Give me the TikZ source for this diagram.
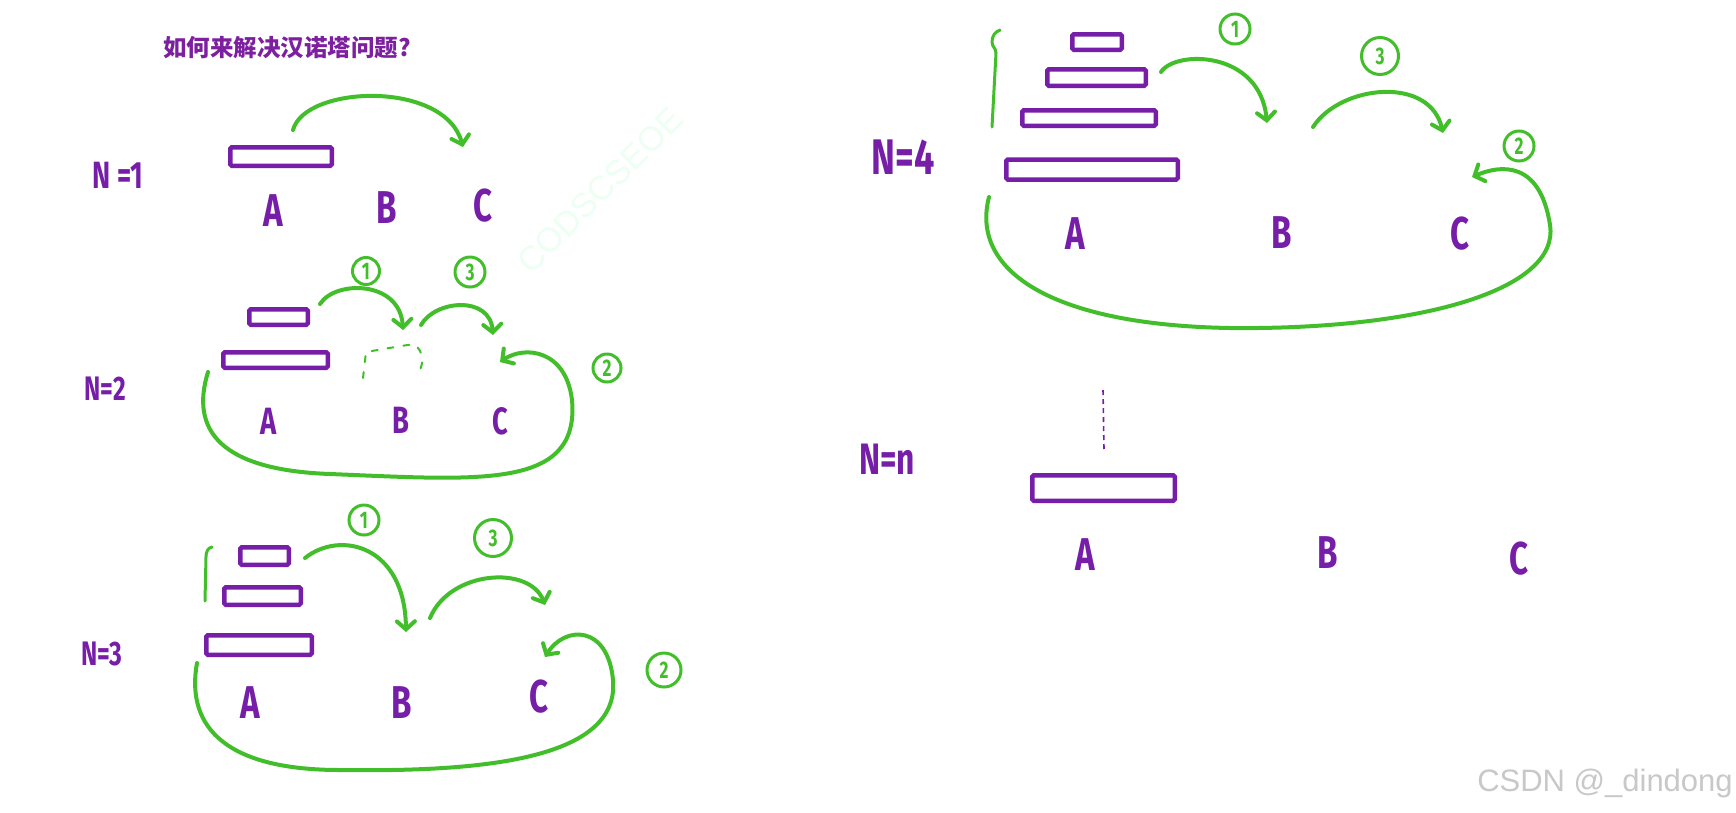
\documentclass[tikz,border=0pt]{standalone}
\usepackage{fontspec}
\usetikzlibrary{arrows.meta}
\newfontfamily\cjk{Noto Sans CJK SC}
\newfontfamily\hand{Fira Sans}[FakeStretch=0.72]
\newfontfamily\wm{Liberation Sans}
\definecolor{hpurple}{RGB}{118,30,168}
\definecolor{tpurple}{RGB}{125,32,160}
\definecolor{hgreen}{RGB}{66,190,42}
\definecolor{wmgray}{RGB}{200,200,200}
\definecolor{wmfaint}{RGB}{236,255,242}
\tikzset{
  disk/.style={draw=hpurple, line width=4.5pt, rounded corners=1.5pt, inner sep=0pt, outer sep=0pt},
  peg/.style={text=hpurple, inner sep=0pt, font=\hand\bfseries\fontsize{46}{46}\selectfont},
  pegsmall/.style={peg, font=\hand\bfseries\fontsize{38}{38}\selectfont},
  nlab/.style={text=hpurple, inner sep=0pt, font=\hand\bfseries\fontsize{#1}{#1}\selectfont},
  mv/.style={draw=hgreen, line width=4pt, line cap=round,
    -{Straight Barb[length=8pt,width=18pt,line cap=round]}},
  num/.style={circle, draw=hgreen, line width=3pt, text=hgreen, inner sep=0pt,
    minimum size=#1, font=\hand\bfseries\fontsize{24}{24}\selectfont},
  brace/.style={draw=hgreen, line width=3pt, line cap=round},
}
\begin{document}
\begin{tikzpicture}[x=1pt,y=-1pt]
\useasboundingbox (0,0) rectangle (1736,812);
\fill[white] (0,0) rectangle (1736,812);

% faint watermark
\node[text=wmfaint, font=\wm\fontsize{34}{34}\selectfont, rotate=45] (wmf) at (600,190) {CODSCSEOE};

% title
\node[text=tpurple, font=\cjk\bfseries\fontsize{23.5}{23.5}\selectfont, inner sep=0pt] (title) at (287,48) {如何来解决汉诺塔问题?};

% ---------- N = 1 ----------
\node[nlab=38] (n1) at (118,175) {N =1};
\node[disk, minimum width=101.5pt, minimum height=18.5pt] (d11) at (281,156.5) {};
\node[peg] (a1) at (273,211) {A};
\node[peg] (b1) at (387,208) {B};
\node[peg] (c1) at (483,206) {C};
\coordinate (s11) at (293,130);
\coordinate (e11) at (463,147);
\draw[mv] (s11) .. controls (305,85) and (445,80) .. (e11);

% ---------- N = 2 ----------
\node[nlab=34] (n2) at (105,389) {N=2};
\node[disk, minimum width=58.5pt, minimum height=15.5pt] (d21) at (278.5,317) {};
\node[disk, minimum width=104.5pt, minimum height=15.5pt] (d22) at (275.5,360) {};
\node[pegsmall] (a2) at (269,421) {A};
\node[pegsmall] (b2) at (401,420) {B};
\node[pegsmall] (c2) at (500,421) {C};
\draw[draw=hgreen, line width=2pt, dash pattern=on 6pt off 10pt, line cap=round]
  (363,378) -- (366,352) -- (395,347) -- (414,344) .. controls (424,352) and (424,362) .. (419,372);
\coordinate (s21) at (320,304);
\coordinate (e21) at (403,330);
\draw[mv] (s21) .. controls (335,280) and (400,280) .. (e21);
\coordinate (s23) at (421,325);
\coordinate (e23) at (493,335);
\draw[mv] (s23) .. controls (435,300) and (490,295) .. (e23);
\coordinate (s22) at (208,372);
\coordinate (e22) at (500,362);
\draw[mv] (s22) .. controls (190,430) and (220,470) .. (330,474)
  .. controls (480,480) and (580,490) .. (572,400)
  .. controls (566,350) and (525,345) .. (e22);
\node[num=27pt] (m21) at (366,271) {1};
\node[num=30pt] (m23) at (470,272) {3};
\node[num=28pt] (m22) at (607,368) {2};

% ---------- N = 3 ----------
\node[nlab=34] (n3) at (102,654) {N=3};
\draw[brace] (212,547) to[out=190,in=90] (206,557) -- (205,601);
\node[disk, minimum width=48.5pt, minimum height=17.5pt] (d31) at (264.5,556) {};
\node[disk, minimum width=76.5pt, minimum height=17.5pt] (d32) at (262.5,596) {};
\node[disk, minimum width=105.5pt, minimum height=19.5pt] (d33) at (259,645) {};
\node[peg] (a3) at (250,703) {A};
\node[peg] (b3) at (402,703) {B};
\node[peg] (c3) at (539,697) {C};
\coordinate (s31) at (305,558);
\coordinate (e31) at (406,632);
\draw[mv] (s31) .. controls (340,530) and (405,545) .. (e31);
\coordinate (s33) at (430,618);
\coordinate (e33) at (545,605);
\draw[mv] (s33) .. controls (450,570) and (530,565) .. (e33);
\coordinate (s32) at (197,663);
\coordinate (e32) at (545,657);
\draw[mv] (s32) .. controls (185,730) and (230,770) .. (340,770)
  .. controls (480,772) and (620,760) .. (613,680)
  .. controls (608,625) and (565,625) .. (e32);
\node[num=30pt] (m31) at (364,520) {1};
\node[num=37pt] (m33) at (493,538) {3};
\node[num=34pt] (m32) at (664,670) {2};

% ---------- N = 4 ----------
\node[nlab=50] (n4) at (903,157) {N=4};
\draw[brace] (1000,30) to[out=200,in=90] (992,42) to[out=-90,in=90] (996,53) -- (992,127);
\node[disk, minimum width=49.5pt, minimum height=15.5pt] (d41) at (1097,42) {};
\node[disk, minimum width=98.5pt, minimum height=16.5pt] (d42) at (1096.5,77.5) {};
\node[disk, minimum width=133.5pt, minimum height=15.5pt] (d43) at (1089,118) {};
\node[disk, minimum width=171.5pt, minimum height=20pt] (d44) at (1092,169.5) {};
\node[peg] (a4) at (1075,234) {A};
\node[peg] (b4) at (1282,233) {B};
\node[peg] (c4) at (1460,234) {C};
\coordinate (s41) at (1161,72);
\coordinate (e41) at (1267,123);
\draw[mv] (s41) .. controls (1175,50) and (1260,50) .. (e41);
\coordinate (s43) at (1313,127);
\coordinate (e43) at (1443,133);
\draw[mv] (s43) .. controls (1340,85) and (1430,75) .. (e43);
\coordinate (s42) at (989,197);
\coordinate (e42) at (1472,177);
\draw[mv] (s42) .. controls (970,270) and (1050,325) .. (1230,328)
  .. controls (1420,330) and (1560,290) .. (1550,225)
  .. controls (1540,160) and (1500,165) .. (e42);
\node[num=30pt] (m41) at (1235,29) {1};
\node[num=37pt] (m43) at (1380,56) {3};
\node[num=30pt] (m42) at (1519,146) {2};

% ---------- N = n ----------
\node[nlab=44] (nn) at (887,459) {N=n};
\coordinate (dt) at (1103,390);
\coordinate (db) at (1104,450);
\draw[draw=hpurple, line width=1.6pt, dash pattern=on 5pt off 4pt] (dt) -- (db);
\node[disk, minimum width=142.5pt, minimum height=25.5pt] (dn) at (1103.5,488) {};
\node[peg] (an) at (1085,555) {A};
\node[peg] (bn) at (1328,553) {B};
\node[peg] (cn) at (1519,559) {C};

% watermark
\node[text=wmgray, font=\wm\fontsize{31}{31}\selectfont, inner sep=0pt] (csdn) at (1605,783) {CSDN @\_dindong};
\end{tikzpicture}
\end{document}
